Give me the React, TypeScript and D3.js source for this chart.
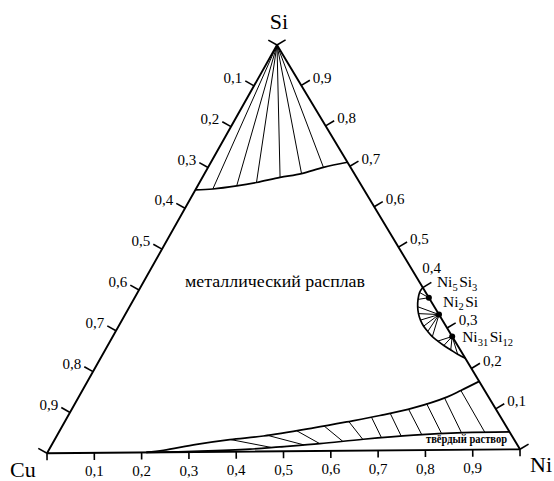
import React from "react";
import * as d3 from "d3";

const WIDTH = 554;
const HEIGHT = 481;

// Corner positions of the composition triangle
const CU: [number, number] = [47, 453.3];
const NI: [number, number] = [520, 449.3];
const SI: [number, number] = [277, 45];

// Axis ticks (fractions) and their labels
const tickValues = [0.1, 0.2, 0.3, 0.4, 0.5, 0.6, 0.7, 0.8, 0.9];
const tickLabels = ["0,1", "0,2", "0,3", "0,4", "0,5", "0,6", "0,7", "0,8", "0,9"];
const tickMarks = [0, 0.1, 0.2, 0.3, 0.4, 0.5, 0.6, 0.7, 0.8, 0.9, 1];

// Compositions are given as [xNi, xSi]; xCu = 1 - xNi - xSi

// Liquidus of silicon near the Si corner
const siLiquidus: [number, number][] = [
  [0, 0.645], [0.036, 0.647], [0.083, 0.654], [0.121, 0.662], [0.165, 0.674],
  [0.206, 0.683], [0.245, 0.698], [0.29, 0.71],
];
// Tie lines from pure Si to these liquidus points
const siTieIndex = [1, 2, 3, 4, 5, 6];

// Liquidus and solidus bounding the Cu-Ni solid solution
const niLiquidus: [number, number][] = [
  [0.21, 0], [0.244, 0.005], [0.307, 0.019], [0.372, 0.03], [0.439, 0.038],
  [0.536, 0.057], [0.599, 0.071], [0.662, 0.086], [0.724, 0.104], [0.782, 0.13],
  [0.804, 0.146], [0.832, 0.168],
];
const niSolidus: [number, number][] = [
  [0.21, 0], [0.323, 0.002], [0.426, 0.006], [0.487, 0.011], [0.568, 0.018],
  [0.655, 0.028], [0.757, 0.037], [0.86, 0.042], [0.957, 0.043],
];
// Tie lines: [xNi on liquidus, xNi on solidus]
const solidTies: [number, number][] = [
  [0.373, 0.47], [0.447, 0.536], [0.503, 0.568], [0.556, 0.614], [0.603, 0.654],
  [0.646, 0.692], [0.681, 0.732], [0.715, 0.774], [0.747, 0.815], [0.778, 0.856],
  [0.804, 0.905],
];

// Liquidus around the nickel silicides
const silicideArc: [number, number][] = [
  [0.6, 0.4], [0.599, 0.388], [0.604, 0.371], [0.612, 0.353], [0.622, 0.336],
  [0.634, 0.32], [0.648, 0.305], [0.663, 0.292], [0.679, 0.279], [0.696, 0.268],
  [0.714, 0.257], [0.734, 0.246], [0.754, 0.235], [0.775, 0.225],
];

// Nickel silicides on the Ni-Si side (xSi) and their tie lines to the arc
const compoundSi = [3 / 8, 1 / 3, 12 / 43];
const compoundParts: [string, string][][] = [
  [["Ni", "5"], ["Si", "3"]],
  [["Ni", "2"], ["Si", ""]],
  [["Ni", "31"], ["Si", "12"]],
];
const compoundFans = [
  [1, 2],
  [3, 4, 5, 6, 7, 8],
  [9, 10, 11, 12],
];
const compoundLabelOffset: [number, number][] = [[8, -10.5], [4, -8], [10, 6]];

const regionLiquid = "металлический расплав";
const regionSolid = "твёрдый раствор";

// Ternary projection built from linear scales along the Cu→Ni and Cu→Si sides
const niX = d3.scaleLinear().domain([0, 1]).range([0, NI[0] - CU[0]]);
const niY = d3.scaleLinear().domain([0, 1]).range([0, NI[1] - CU[1]]);
const siX = d3.scaleLinear().domain([0, 1]).range([0, SI[0] - CU[0]]);
const siY = d3.scaleLinear().domain([0, 1]).range([0, SI[1] - CU[1]]);
const project = (ni: number, si: number): [number, number] => [
  CU[0] + niX(ni) + siX(si),
  CU[1] + niY(ni) + siY(si),
];

const curve = d3
  .line<[number, number]>()
  .x((d) => project(d[0], d[1])[0])
  .y((d) => project(d[0], d[1])[1])
  .curve(d3.curveCatmullRom.alpha(0.5));

const bisectNi = d3.bisector((d: [number, number]) => d[0]).left;
function siAt(line: [number, number][], ni: number): number {
  const i = Math.min(Math.max(bisectNi(line, ni), 1), line.length - 1);
  const a = line[i - 1];
  const b = line[i];
  const t = (ni - a[0]) / (b[0] - a[0]);
  return a[1] + t * (b[1] - a[1]);
}

// Outward unit normal of an edge, away from the opposite corner
function outward(a: [number, number], b: [number, number], opp: [number, number]): [number, number] {
  const ex = b[0] - a[0];
  const ey = b[1] - a[1];
  const len = Math.hypot(ex, ey);
  let nx = ey / len;
  let ny = -ex / len;
  const mx = (a[0] + b[0]) / 2 - opp[0];
  const my = (a[1] + b[1]) / 2 - opp[1];
  if (nx * mx + ny * my < 0) {
    nx = -nx;
    ny = -ny;
  }
  return [nx, ny];
}

const FONT = "'Liberation Serif', 'Times New Roman', serif";

export default function App() {
  const nBottom = outward(CU, NI, SI);
  const nLeft = outward(CU, SI, NI);
  const nRight = outward(NI, SI, CU);

  const edges = [
    { pos: (v: number) => project(v, 0), n: nBottom, len: 7 },
    { pos: (v: number) => project(0, 1 - v), n: nLeft, len: 10 },
    { pos: (v: number) => project(1 - v, v), n: nRight, len: 10 },
  ];

  const ticks: JSX.Element[] = [];
  edges.forEach((e, ei) =>
    tickMarks.forEach((v, i) => {
      const [x, y] = e.pos(v);
      ticks.push(
        <line
          key={`t${ei}-${i}`}
          x1={x}
          y1={y}
          x2={x + e.n[0] * e.len}
          y2={y + e.n[1] * e.len}
          stroke="#000"
          strokeWidth={1.6}
        />
      );
    })
  );

  const labels: JSX.Element[] = [];
  tickValues.forEach((v, i) => {
    // bottom: fraction of Ni
    const b = edges[0].pos(v);
    labels.push(
      <text key={`lb${i}`} x={b[0]} y={b[1] + 23.5} textAnchor="middle">
        {tickLabels[i]}
      </text>
    );
    // left: fraction of Cu
    const l = edges[1].pos(v);
    labels.push(
      <text
        key={`ll${i}`}
        x={l[0] + nLeft[0] * 10 - 3}
        y={l[1] + nLeft[1] * 10 + 2}
        textAnchor="end"
      >
        {tickLabels[i]}
      </text>
    );
    // right: fraction of Si
    const r = edges[2].pos(v);
    const shift = tickLabels[i] === "0,4" ? [-12, -12] : [0, 0];
    labels.push(
      <text
        key={`lr${i}`}
        x={r[0] + nRight[0] * 10 + 3 + shift[0]}
        y={r[1] + nRight[1] * 10 + 2.5 + shift[1]}
        textAnchor="start"
      >
        {tickLabels[i]}
      </text>
    );
  });

  const apex = project(0, 1);

  return (
    <svg
      width={WIDTH}
      height={HEIGHT}
      viewBox={`0 0 ${WIDTH} ${HEIGHT}`}
      style={{ position: "absolute", left: 0, top: 0, background: "#fff" }}
      fontFamily={FONT}
    >
      <rect width={WIDTH} height={HEIGHT} fill="#fff" />

      {/* tie lines from Si to its liquidus */}
      {siTieIndex.map((k) => {
        const p = project(siLiquidus[k][0], siLiquidus[k][1]);
        return (
          <line key={`st${k}`} x1={apex[0]} y1={apex[1]} x2={p[0]} y2={p[1]} stroke="#000" strokeWidth={1} />
        );
      })}

      {/* tie lines in the liquid + solid solution field */}
      {solidTies.map(([a, b], i) => {
        const p = project(a, siAt(niLiquidus, a));
        const q = project(b, siAt(niSolidus, b));
        return <line key={`nt${i}`} x1={p[0]} y1={p[1]} x2={q[0]} y2={q[1]} stroke="#000" strokeWidth={1} />;
      })}

      {/* tie lines from the silicides to the arc */}
      {compoundFans.map((fan, ci) => {
        const c = project(1 - compoundSi[ci], compoundSi[ci]);
        return fan.map((k) => {
          const p = project(silicideArc[k][0], silicideArc[k][1]);
          return (
            <line key={`ct${ci}-${k}`} x1={c[0]} y1={c[1]} x2={p[0]} y2={p[1]} stroke="#000" strokeWidth={1} />
          );
        });
      })}

      <g fill="none" stroke="#000" strokeWidth={1.7}>
        <path d={curve(siLiquidus) ?? ""} />
        <path d={curve(niLiquidus) ?? ""} />
        <path d={curve(niSolidus) ?? ""} />
        <path d={curve(silicideArc) ?? ""} />
      </g>

      {/* triangle */}
      <path
        d={`M${CU[0]},${CU[1]}L${NI[0]},${NI[1]}L${SI[0]},${SI[1]}Z`}
        fill="none"
        stroke="#000"
        strokeWidth={1.9}
        strokeLinejoin="bevel"
      />
      {ticks}

      {compoundSi.map((s, ci) => {
        const c = project(1 - s, s);
        return <circle key={`cd${ci}`} cx={c[0]} cy={c[1]} r={3} fill="#000" />;
      })}

      <g fontSize={15} fill="#000">
        {labels}
      </g>

      {compoundSi.map((s, ci) => {
        const c = project(1 - s, s);
        const [dx, dy] = compoundLabelOffset[ci];
        const parts = compoundParts[ci];
        return (
          <text key={`cl${ci}`} x={c[0] + dx} y={c[1] + dy} fontSize={15.5}>
            {parts.map(([el, n], j) => {
              const prevSub = j > 0 && parts[j - 1][1] !== "";
              return (
                <React.Fragment key={j}>
                  <tspan dx={j > 0 ? 1.5 : 0} dy={prevSub ? -3.5 : 0}>
                    {el}
                  </tspan>
                  {n ? (
                    <tspan fontSize={10.5} dy={3.5}>
                      {n}
                    </tspan>
                  ) : null}
                </React.Fragment>
              );
            })}
          </text>
        );
      })}

      <text x={185} y={287} fontSize={17} textLength={180} lengthAdjust="spacingAndGlyphs">
        {regionLiquid}
      </text>
      <text x={426} y={443} fontSize={11.5} fontWeight="bold" textLength={81} lengthAdjust="spacingAndGlyphs">
        {regionSolid}
      </text>

      <g fontSize={22}>
        <text x={apex[0] + 2} y={29} textAnchor="middle">Si</text>
        <text x={10} y={477}>Cu</text>
        <text x={530} y={472}>Ni</text>
      </g>
    </svg>
  );
}
